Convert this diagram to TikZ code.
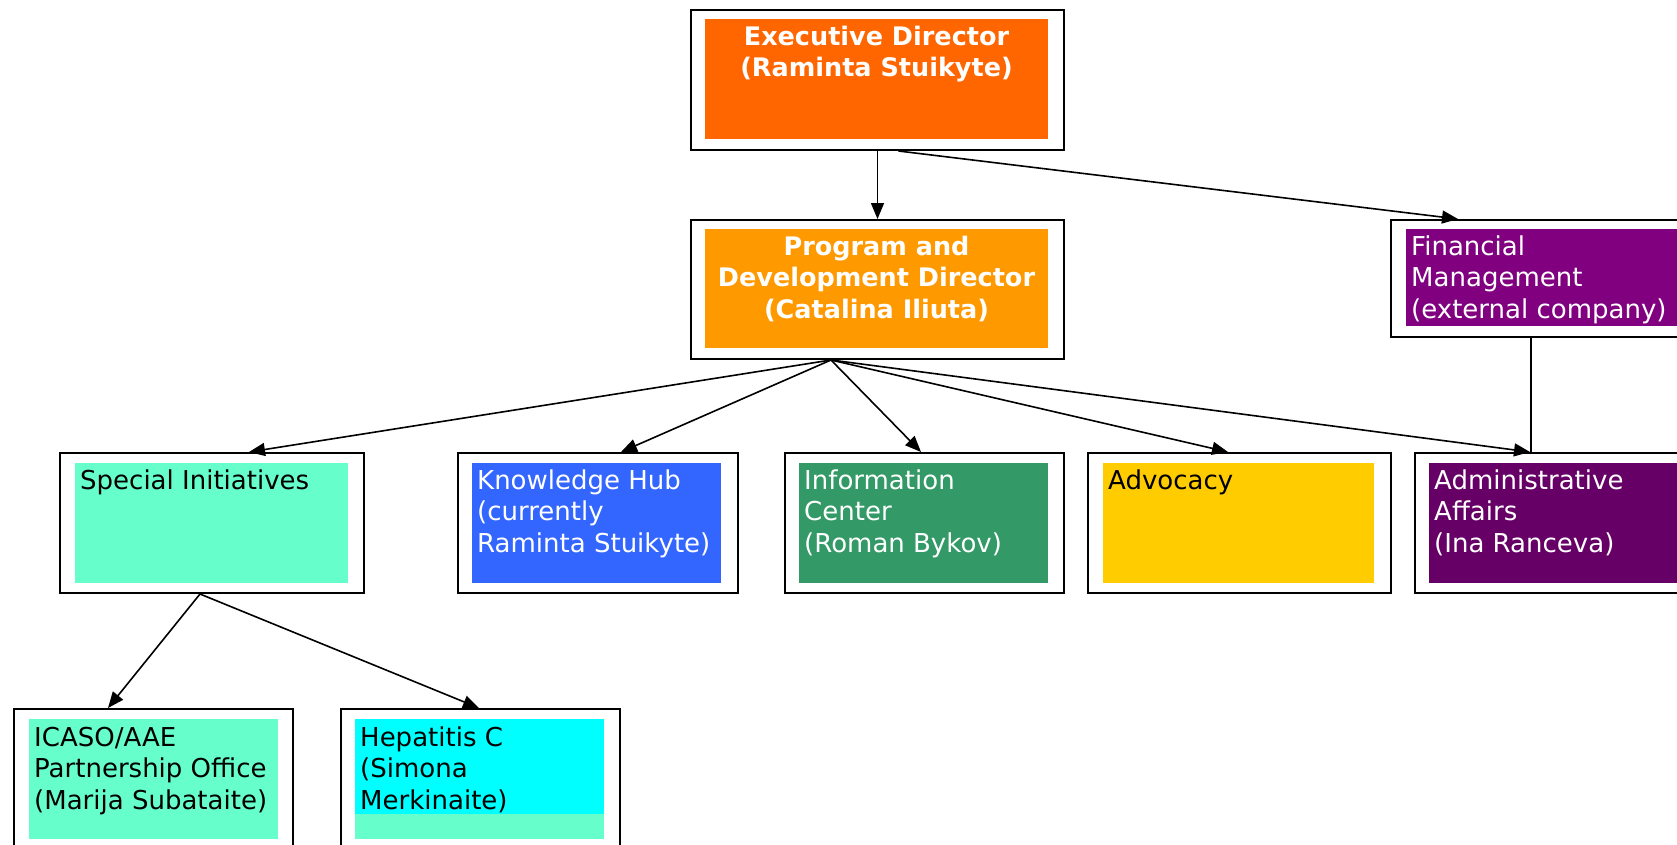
\documentclass[tikz,border=0pt]{standalone}
\usepackage{fontspec}
\setmainfont{DejaVu Sans}
\usetikzlibrary{arrows.meta}
\definecolor{exOrange}{HTML}{FF6600}
\definecolor{pgOrange}{HTML}{FF9900}
\definecolor{finPurple}{HTML}{800080}
\definecolor{admPurple}{HTML}{660066}
\definecolor{aquaGreen}{HTML}{66FFCC}
\definecolor{hubBlue}{HTML}{3366FF}
\definecolor{infoGreen}{HTML}{339966}
\definecolor{advYellow}{HTML}{FFCC00}
\definecolor{hepCyan}{HTML}{00FFFF}
\tikzset{
  obox/.style={draw=black, line width=2pt, fill=white, rectangle, inner sep=0pt, anchor=north west},
  txt/.style={inner sep=0pt, anchor=north west, align=left, font=\fontsize{26}{31.5}\selectfont},
  btxt/.style={inner sep=0pt, anchor=north, align=center, text=white, font=\fontsize{25.5}{31.5}\selectfont\bfseries},
  wtxt/.style={txt, text=white},
  arr/.style={draw=black, line width=1.6pt, -{Triangle[length=16pt,width=13pt]}},
  plain/.style={draw=black, line width=1.6pt}
}
\begin{document}
\begin{tikzpicture}[x=1pt,y=-1pt]
\useasboundingbox (0,0) rectangle (1677,845);
\fill[white] (0,0) rectangle (1677,845);
\begin{scope}
\clip (0,0) rectangle (1677,845);
% outer boxes
\node[obox, minimum width=373pt, minimum height=140pt] (exec) at (690,9) {};
\node[obox, minimum width=373pt, minimum height=139pt] (prog) at (690,219) {};
\node[obox, minimum width=330pt, minimum height=117pt] (fin) at (1390,219) {};
\node[obox, minimum width=304pt, minimum height=140pt] (spec) at (59,452) {};
\node[obox, minimum width=280pt, minimum height=140pt] (know) at (457,452) {};
\node[obox, minimum width=279pt, minimum height=140pt] (info) at (784,452) {};
\node[obox, minimum width=303pt, minimum height=140pt] (adv) at (1087,452) {};
\node[obox, minimum width=306pt, minimum height=140pt] (admin) at (1414,452) {};
\node[obox, minimum width=279pt, minimum height=140pt] (icaso) at (13,708) {};
\node[obox, minimum width=279pt, minimum height=140pt] (hep) at (340,708) {};
% inner fills
\fill[exOrange] (705,19) rectangle (1048,139);
\fill[pgOrange] (705,229) rectangle (1048,348);
\fill[finPurple] (1406,229) rectangle (1710,326);
\fill[aquaGreen] (75,463) rectangle (348,583);
\fill[hubBlue] (472,463) rectangle (721,583);
\fill[infoGreen] (799,463) rectangle (1048,583);
\fill[advYellow] (1103,463) rectangle (1374,583);
\fill[admPurple] (1429,463) rectangle (1710,583);
\fill[aquaGreen] (29,719) rectangle (278,839);
\fill[aquaGreen] (355,719) rectangle (604,839);
\fill[hepCyan] (355,719) rectangle (604,814);
% texts
\node[btxt] (execT) at (876.5,23) {\strut Executive Director\\(Raminta Stuikyte)};
\node[btxt] (progT) at (876.5,233) {\strut Program and\\Development Director\\(Catalina Iliuta)};
\node[wtxt] (finT) at (1411,233) {\strut Financial\\Management\\(external company)};
\node[txt] (specT) at (80,467) {\strut Special Initiatives};
\node[wtxt] (knowT) at (477,467) {\strut Knowledge Hub\\(currently\\Raminta Stuikyte)};
\node[wtxt] (infoT) at (804,467) {\strut Information\\Center\\(Roman Bykov)};
\node[txt] (advT) at (1108,467) {\strut Advocacy};
\node[wtxt] (adminT) at (1434,467) {\strut Administrative\\Affairs\\(Ina Ranceva)};
\node[txt] (icasoT) at (34,724) {\strut ICASO/AAE\\Partnership Office\\(Marija Subataite)};
\node[txt] (hepT) at (360,724) {\strut Hepatitis C\\(Simona\\Merkinaite)};
% connectors
\coordinate (pb) at ([xshift=-46.5pt]prog.south);
\coordinate (sb) at ([xshift=-12pt]spec.south);
\draw[arr] (exec.south) -- (prog.north);
\draw[arr] ([xshift=21pt]exec.south) -- ([xshift=68pt]fin.north west);
\draw[arr] (pb) -- ([xshift=37pt]spec.north);
\draw[arr] (pb) -- ([xshift=23pt]know.north);
\draw[arr] (pb) -- ([xshift=-3.5pt]info.north);
\draw[arr] (pb) -- ([xshift=-11.5pt]adv.north);
\draw[arr] (pb) -- ([xshift=116pt]admin.north west);
\draw[plain] ([xshift=141pt]fin.south west) -- ([xshift=117pt]admin.north west);
\draw[arr] (sb) -- ([xshift=-45.5pt]icaso.north);
\draw[arr] (sb) -- ([xshift=-1.5pt]hep.north);
\end{scope}
\end{tikzpicture}
\end{document}
